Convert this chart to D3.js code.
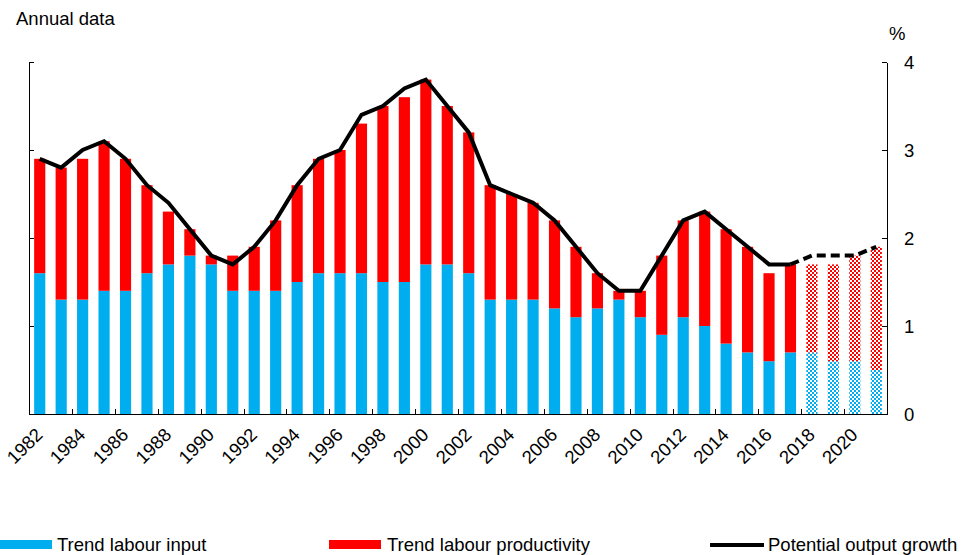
<!DOCTYPE html>
<html>
<head>
<meta charset="utf-8">
<script src="https://cdn.jsdelivr.net/npm/d3@7"></script>
<style>
    body { margin: 0; background: #fff; }
    svg { display: block; font-family: "Liberation Sans", Arial, sans-serif; }
    .axis path, .axis line { stroke: #000; stroke-width: 1px; shape-rendering: crispEdges; }
    .axis text { font-size: 18.5px; fill: #000; font-family: "Liberation Sans", Arial, sans-serif; }
</style>
</head>
<body>
<div id="chart-area"></div>
<script>

// Data
var years = d3.range(1982, 2022);
var firstForecast = 2018;

var labourInput = [1.6, 1.3, 1.3, 1.4, 1.4, 1.6, 1.7, 1.8, 1.7, 1.4,
                   1.4, 1.4, 1.5, 1.6, 1.6, 1.6, 1.5, 1.5, 1.7, 1.7,
                   1.6, 1.3, 1.3, 1.3, 1.2, 1.1, 1.2, 1.3, 1.1, 0.9,
                   1.1, 1.0, 0.8, 0.7, 0.6, 0.7, 0.7, 0.6, 0.6, 0.5];

var labourProductivity = [1.3, 1.5, 1.6, 1.7, 1.5, 1.0, 0.6, 0.3, 0.1, 0.4,
                          0.5, 0.8, 1.1, 1.3, 1.4, 1.7, 2.0, 2.1, 2.1, 1.8,
                          1.6, 1.3, 1.2, 1.1, 1.0, 0.8, 0.4, 0.1, 0.3, 0.9,
                          1.1, 1.3, 1.3, 1.2, 1.0, 1.0, 1.0, 1.1, 1.2, 1.4];

var potentialGrowth = [2.9, 2.8, 3.0, 3.1, 2.9, 2.6, 2.4, 2.1, 1.8, 1.7,
                       1.9, 2.2, 2.6, 2.9, 3.0, 3.4, 3.5, 3.7, 3.8, 3.5,
                       3.2, 2.6, 2.5, 2.4, 2.2, 1.9, 1.6, 1.4, 1.4, 1.8,
                       2.2, 2.3, 2.1, 1.9, 1.7, 1.7, 1.8, 1.8, 1.8, 1.9];

var yTicks = [0, 1, 2, 3, 4];
var legendLabels = ["Trend labour input", "Trend labour productivity", "Potential output growth"];

var blue = "#00AEEF", red = "#FF0000";

var data = years.map(function(yr, i){
    return { year: yr, input: labourInput[i], prod: labourProductivity[i],
             growth: potentialGrowth[i], forecast: yr >= firstForecast };
});

var width = 961, height = 555;
var plotLeft = 29, plotRight = 887, plotTop = 62, plotBottom = 414;
var fontSize = "18.5px";

var svg = d3.select("#chart-area")
    .append("svg")
    .attr("width", width)
    .attr("height", height);

// Checker patterns for forecast bars
var defs = svg.append("defs");
[["checkBlue", blue], ["checkRed", red]].forEach(function(p){
    var pat = defs.append("pattern")
        .attr("id", p[0])
        .attr("patternUnits", "userSpaceOnUse")
        .attr("width", 4).attr("height", 4);
    pat.append("rect").attr("width", 4).attr("height", 4).attr("fill", "#fff");
    pat.append("rect").attr("width", 2).attr("height", 2).attr("fill", p[1]);
    pat.append("rect").attr("x", 2).attr("y", 2).attr("width", 2).attr("height", 2).attr("fill", p[1]);
});

// Scales
var x = d3.scaleBand()
    .domain(years)
    .range([plotLeft, plotRight])
    .paddingInner(0.48)
    .paddingOuter(0.24);
var xEdge = d3.scaleLinear().domain([1982, 2022]).range([plotLeft, plotRight]);
var y = d3.scaleLinear().domain([0, 4]).range([plotBottom, plotTop]);

// Bars
var bars = svg.append("g");
bars.selectAll(".bar-input")
    .data(data)
    .enter().append("rect")
    .attr("class", "bar-input")
    .attr("x", function(d){ return x(d.year); })
    .attr("width", x.bandwidth())
    .attr("y", function(d){ return y(d.input); })
    .attr("height", function(d){ return y(0) - y(d.input); })
    .attr("fill", function(d){ return d.forecast ? "url(#checkBlue)" : blue; });

bars.selectAll(".bar-prod")
    .data(data)
    .enter().append("rect")
    .attr("class", "bar-prod")
    .attr("x", function(d){ return x(d.year); })
    .attr("width", x.bandwidth())
    .attr("y", function(d){ return y(d.input + d.prod); })
    .attr("height", function(d){ return y(d.input) - y(d.input + d.prod); })
    .attr("fill", function(d){ return d.forecast ? "url(#checkRed)" : red; });

// Axes
svg.append("g")
    .attr("class", "axis")
    .attr("transform", "translate(0," + plotBottom + ")")
    .call(d3.axisBottom(xEdge)
        .tickValues(d3.range(1984, 2022, 2))
        .tickSizeInner(-5)
        .tickSizeOuter(0)
        .tickFormat(""));

svg.append("g")
    .attr("class", "axis")
    .attr("transform", "translate(" + plotLeft + ",0)")
    .call(d3.axisLeft(y).tickValues(yTicks).tickSizeInner(-5).tickSizeOuter(0).tickFormat(""));

var yRight = svg.append("g")
    .attr("class", "axis")
    .attr("transform", "translate(" + plotRight + ",0)")
    .call(d3.axisRight(y)
        .tickValues(yTicks)
        .tickSizeInner(-5)
        .tickSizeOuter(0)
        .tickPadding(17)
        .tickFormat(d3.format("d")));
yRight.selectAll("text").attr("dy", "0.35em");

// Year labels
svg.append("g")
    .selectAll("text")
    .data(years.filter(function(yr){ return yr % 2 == 0; }))
    .enter().append("text")
    .attr("transform", function(d){
        return "translate(" + (x(d) + x.bandwidth() / 2 + 4) + ",436) rotate(-45)";
    })
    .attr("text-anchor", "end")
    .attr("font-size", fontSize)
    .attr("fill", "#000")
    .text(function(d){ return d; });

// Potential output growth line
var line = d3.line()
    .x(function(d){ return x(d.year) + x.bandwidth() / 2; })
    .y(function(d){ return y(d.growth); });

var actual = data.filter(function(d){ return d.year < firstForecast; });
var projected = data.filter(function(d){ return d.year >= firstForecast - 1; });

svg.append("path")
    .attr("d", line(actual))
    .attr("fill", "none")
    .attr("stroke", "#000")
    .attr("stroke-width", 4);

svg.append("path")
    .attr("d", line(projected))
    .attr("fill", "none")
    .attr("stroke", "#000")
    .attr("stroke-width", 4)
    .attr("stroke-dasharray", "9,5");

// Titles
svg.append("text")
    .attr("x", 16).attr("y", 25)
    .attr("font-size", fontSize)
    .text("Annual data");
svg.append("text")
    .attr("x", 889).attr("y", 40)
    .attr("font-size", fontSize)
    .text("%");

// Legend
var legend = svg.append("g");
legend.append("rect").attr("x", 0).attr("y", 540).attr("width", 52).attr("height", 9).attr("fill", blue);
legend.append("rect").attr("x", 329).attr("y", 540).attr("width", 52).attr("height", 9).attr("fill", red);
legend.append("line").attr("x1", 710).attr("x2", 764).attr("y1", 545).attr("y2", 545)
    .attr("stroke", "#000").attr("stroke-width", 4);
legend.selectAll("text")
    .data(legendLabels)
    .enter().append("text")
    .attr("x", function(d, i){ return [57, 387, 768][i]; })
    .attr("y", 551)
    .attr("font-size", fontSize)
    .text(function(d){ return d; });

</script>
</body>
</html>
